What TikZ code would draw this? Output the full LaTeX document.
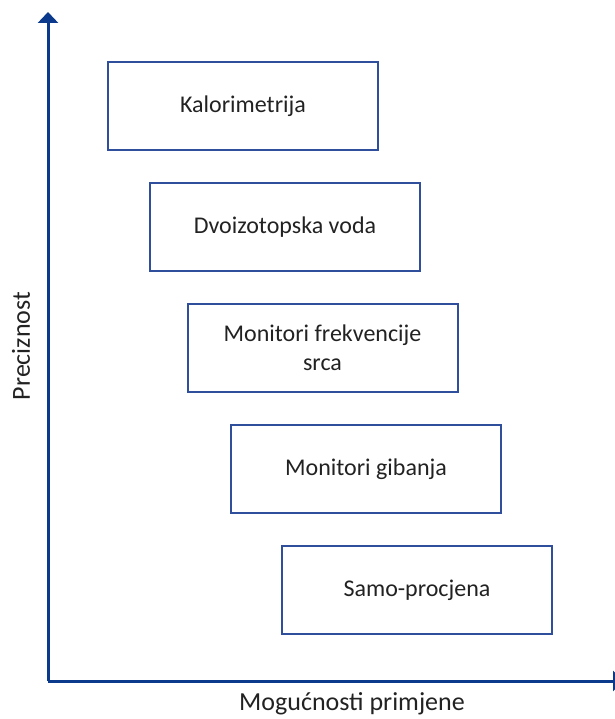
\documentclass[tikz,border=0pt]{standalone}
\usepackage{fontspec}
\setmainfont{Carlito}
\usepackage{xcolor}
\usetikzlibrary{arrows.meta}
\definecolor{boxblue}{HTML}{2F4F9C}
\definecolor{axisblue}{HTML}{0B3A8C}
\definecolor{txtgray}{HTML}{222222}
\begin{document}
\begin{tikzpicture}[x=1pt,y=-1pt,
		method/.style={draw=boxblue, line width=2pt, minimum width=270pt, minimum height=88pt, align=center, text=txtgray, font=\fontsize{24}{29}\selectfont},
		axislabel/.style={text=txtgray, font=\fontsize{26}{31}\selectfont}]
				\useasboundingbox (0,0) rectangle (614,719);
				
				\coordinate (origin) at (48,681);
				\coordinate (ytip) at (48,12);
				\coordinate (xtip) at (624,681);
				
				\draw [axisblue, line width=3pt, -{Triangle[width=20pt,length=11pt]}] (origin) -- (ytip);
				\draw [axisblue, line width=3pt, -{Triangle[width=20pt,length=11pt]}] (origin) -- (xtip);
				
				\node [method] (kalo) at (243,106) {Kalorimetrija};
				\node [method] (dvoiz) at (285,227) {Dvoizotopska voda};
				\node [method] (srce) at (322.5,348) {Monitori frekvencije\\srca};
				\node [method] (gib) at (366,469) {Monitori gibanja};
				\node [method] (samo) at (417,590) {Samo-procjena};
				
				\node [axislabel, rotate=90] (prec) at (21,346) {Preciznost};
				\node [axislabel] (mog) at (352,703.5) {Mogućnosti primjene};
\end{tikzpicture}
\end{document}
